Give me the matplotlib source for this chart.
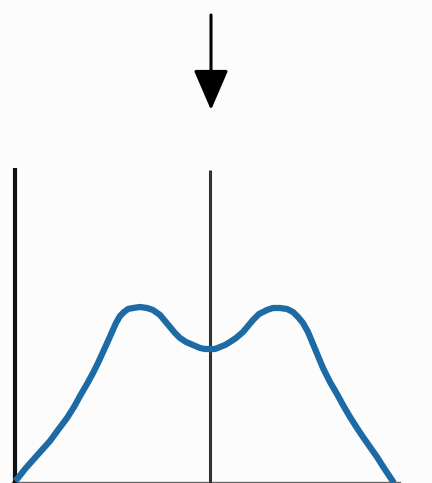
import matplotlib.pyplot as plt

# curve (pixel x, height above the bottom edge)
curve_x = [15, 18, 25, 33, 41, 50, 58, 67, 74, 80, 87, 93, 98, 103, 108, 112, 116, 120, 124,
           128, 133, 140, 147, 153, 160, 165, 170, 175, 180, 186, 193, 200, 205, 210, 215,
           220, 225, 230, 236, 243, 248, 253, 259, 267, 273, 280, 287, 293, 298, 303, 308,
           313, 318, 323, 330, 337, 343, 350, 357, 363, 370, 377, 384, 390, 394]
curve_y = [2, 5, 14, 23, 32, 42, 53, 65, 76, 87, 99, 110, 120, 131, 142, 151, 160, 167, 171,
           174, 175, 176, 175, 173, 168, 162, 156, 150, 145, 141, 138, 135, 134, 134, 134,
           136, 138, 141, 145, 151, 157, 163, 169, 173, 175, 175, 174, 171, 166, 160, 151,
           139, 127, 115, 101, 89, 78, 66, 55, 46, 36, 26, 15, 6, 0]

marker_x = [15, 210]
marker_top = [315, 313]
arrow_x = 211
arrow_from = 468
arrow_to = 373

fig = plt.figure(figsize=(4.32, 4.83), dpi=100)
fig.patch.set_facecolor('#fbfcfb')
ax = fig.add_axes([0, 0, 1, 1])
ax.set_xlim(0, 432)
ax.set_ylim(0, 483)
ax.axis('off')

# baseline
ax.plot([12, 400], [1.5, 1.5], color='#666666', lw=1.0)

# vertical lines
ax.plot([marker_x[0]] * 2, [0, marker_top[0]], color='#111111', lw=3.0, solid_capstyle='butt')
ax.plot([marker_x[1]] * 2, [0, marker_top[1]], color='#333333', lw=2.2, solid_capstyle='butt')

# curve
ax.plot(curve_x, curve_y, color='#1d6aa5', lw=4.5, solid_joinstyle='round', solid_capstyle='butt')

# arrow
ax.annotate('', xy=(arrow_x, arrow_to), xytext=(arrow_x, arrow_from),
            arrowprops=dict(arrowstyle='-|>,head_length=1.25,head_width=0.54',
                            mutation_scale=20, lw=2.2, color='black',
                            shrinkA=0, shrinkB=0))

fig.savefig('out.png', dpi=100, facecolor=fig.get_facecolor())
